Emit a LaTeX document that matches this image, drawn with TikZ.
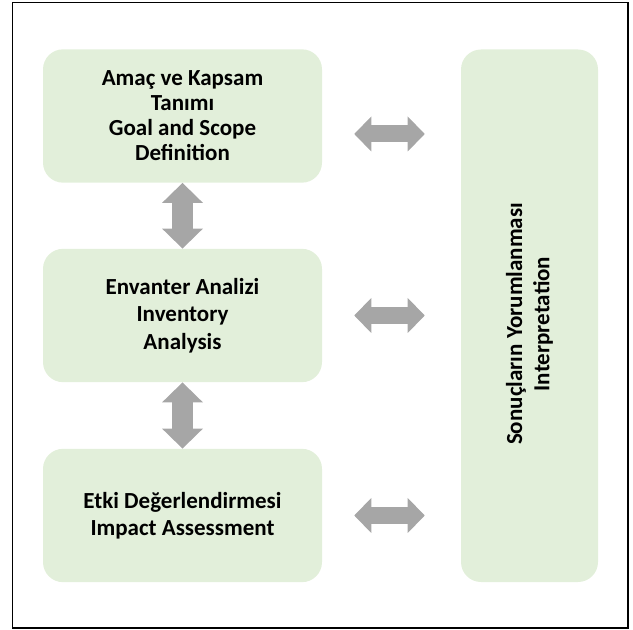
\documentclass[tikz,border=0pt]{standalone}
\usepackage{fontspec}
\setmainfont{Carlito}
\definecolor{lcagreen}{RGB}{226, 239, 218}
\definecolor{lcagray}{RGB}{166, 166, 166}
\usetikzlibrary{arrows.meta}
\tikzset{
  % Stage card (light green, no border).
  stage/.style={
    rectangle, rounded corners=15pt,
    draw=none, fill=lcagreen,
    minimum width=209.25pt, minimum height=100pt,
    inner sep=0pt, align=center,
    font=\fontsize{17.25}{20.5}\selectfont\bfseries,
    text=black,
  },
  % Tall interpretation column.
  column/.style={
    stage, minimum width=102.75pt, minimum height=399.4pt,
  },
  % Text set on top of a card.
  stage-text/.style={
    align=center, inner sep=0pt,
    font=\fontsize{17.25}{20.5}\selectfont\bfseries,
  },
  % Fat grey double arrows.
  fat-h/.style={
    arrows={Triangle[length=12.75pt, width=26.25pt, line width=0pt 0 0]-Triangle[length=12.75pt, width=26.25pt, line width=0pt 0 0]},
    line width=12.75pt, draw=lcagray,
  },
  fat-v/.style={
    arrows={Triangle[length=15pt, width=30.75pt, line width=0pt 0 0]-Triangle[length=15pt, width=30.75pt, line width=0pt 0 0]},
    line width=15.75pt, draw=lcagray,
  },
}
\begin{document}
\begin{tikzpicture}[x=0.75pt, y=-0.75pt]

  \useasboundingbox (0, 0) rectangle (633, 630);

  % Outer frame.
  \draw[line width=1.2pt] (12.5, 2.7) rectangle (628, 628);

  % Left column — the three stages.
  \node[stage, font=\fontsize{17.25}{18.75}\selectfont\bfseries] (goal) at (182.5, 116) {%
    Amaç ve Kapsam\\
    Tanımı\\
    Goal and Scope\\
    Definition%
  };
  \node[stage] (inventory) at (182.5, 315.5) {%
    Envanter Analizi\\
    Inventory\\
    Analysis%
  };
  \node[stage] (impact) at (182.5, 515.5) {%
    Etki Değerlendirmesi\\
    Impact Assessment%
  };

  % Right column — interpretation.
  \node[column] (interp) at (529.5, 315.75) {};
  \node[stage-text, rotate=90] (interp-text) at (529.5, 324) {%
    Sonuçların Yorumlanması\\
    Interpretation%
  };

  % Vertical arrows between the stages.
  \draw[fat-v] (goal.south) -- (inventory.north);
  \draw[fat-v] (inventory.south) -- (impact.north);

  % Horizontal arrows to the interpretation column.
  \draw[fat-h, shorten <=24pt, shorten >=27pt]
    ([yshift=-13.5pt]goal.east) -- ([yshift=-13.5pt]goal.east -| interp.west);
  \draw[fat-h, shorten <=24pt, shorten >=27pt]
    (inventory.east) -- (inventory.east -| interp.west);
  \draw[fat-h, shorten <=24pt, shorten >=27pt]
    (impact.east) -- (impact.east -| interp.west);

\end{tikzpicture}
\end{document}
